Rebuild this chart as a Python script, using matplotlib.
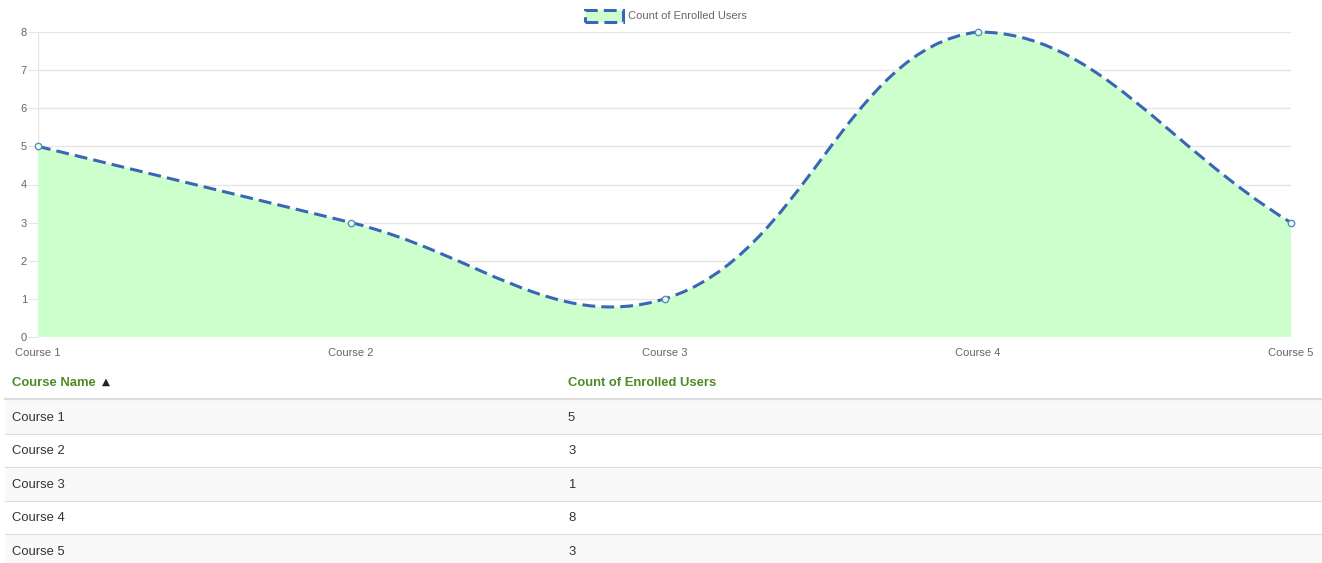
import numpy as np
import matplotlib
matplotlib.use("Agg")
import matplotlib.pyplot as plt
from matplotlib.path import Path
from matplotlib.patches import PathPatch, Rectangle

courses = ["Course 1", "Course 2", "Course 3", "Course 4", "Course 5"]
enrolled = [5, 3, 1, 8, 3]
y_ticks = [0, 1, 2, 3, 4, 5, 6, 7, 8]
series_label = "Count of Enrolled Users"
col_headers = ["Course Name", "Count of Enrolled Users"]

W, H = 1322, 563
LINE = "#3a66b8"
FILL = "#ccffcc"
GRID = "#e6e6e6"
TICK = "#666666"
HEAD = "#4f8a23"
DASH = (0, (4.2, 2.0))

plt.rcParams['font.family'] = ['Liberation Sans', 'DejaVu Sans']

fig = plt.figure(figsize=(W / 100, H / 100), dpi=100)

def fx(px):
    return px / W

def fy(py):
    return 1 - py / H

# plot area: x 38..1291, y 32..337 (pixels from top)
ax = fig.add_axes([fx(38), fy(337), fx(1291) - fx(38), fy(32) - fy(337)])
x = np.arange(len(courses))
ax.set_xlim(0, len(courses) - 1)
ax.set_ylim(0, 8)

for s in ax.spines.values():
    s.set_visible(False)
ax.axvline(0, color=GRID, lw=1, zorder=0)
ax.set_yticks(y_ticks)
ax.yaxis.grid(True, color=GRID, lw=1)
ax.set_axisbelow(True)
ax.tick_params(axis='y', length=7, color=GRID, labelcolor=TICK, labelsize=8, pad=1)
ax.set_xticks(x)
ax.set_xticklabels(courses)
ax.tick_params(axis='x', length=0, labelcolor=TICK, labelsize=8, pad=8)

# chart.js style spline (tension 0.4), control points computed in pixel space
tension = 0.4
pts = ax.transData.transform(np.column_stack([x, enrolled]))
n = len(pts)
cp_prev = np.zeros_like(pts)
cp_next = np.zeros_like(pts)
for i in range(n):
    prev = pts[max(i - 1, 0)]
    cur = pts[i]
    nxt = pts[min(i + 1, n - 1)]
    d01 = np.hypot(*(cur - prev))
    d12 = np.hypot(*(nxt - cur))
    tot = d01 + d12
    fa = tension * d01 / tot
    fb = tension * d12 / tot
    cp_prev[i] = cur - fa * (nxt - prev)
    cp_next[i] = cur + fb * (nxt - prev)
inv = ax.transData.inverted()
cp_prev = inv.transform(cp_prev)
cp_next = inv.transform(cp_next)
cp_prev[:, 1] = np.clip(cp_prev[:, 1], 0, 8)
cp_next[:, 1] = np.clip(cp_next[:, 1], 0, 8)

verts = [(x[0], enrolled[0])]
codes = [Path.MOVETO]
for i in range(n - 1):
    verts += [tuple(cp_next[i]), tuple(cp_prev[i + 1]), (x[i + 1], enrolled[i + 1])]
    codes += [Path.CURVE4] * 3

fill_path = Path(verts + [(x[-1], 0), (x[0], 0), (x[0], enrolled[0])],
                 codes + [Path.LINETO, Path.LINETO, Path.CLOSEPOLY])
ax.add_patch(PathPatch(fill_path, facecolor=FILL, edgecolor='none', zorder=1))
ax.add_patch(PathPatch(Path(verts, codes), facecolor='none', edgecolor=LINE,
                       lw=2.2, linestyle=DASH, zorder=3, clip_on=False))
ax.plot(x, enrolled, 'o', ms=4.6, mfc="#e8ffe8", mec="#5b8fc4", mew=1.0,
        zorder=4, clip_on=False)

# legend
fig.add_artist(Rectangle((fx(585), fy(22)), fx(38), fy(10) - fy(22),
                         transform=fig.transFigure, facecolor=FILL, edgecolor=LINE,
                         lw=2.2, linestyle=DASH))
fig.text(fx(628), fy(16), series_label, color=TICK, fontsize=8, va='center', ha='left')

# table below the chart
row_top = 400
row_h = 33.5
for i, (c, v) in enumerate(zip(courses, enrolled)):
    top = row_top + i * row_h
    bg = "#f9f9f9" if i % 2 == 0 else "#ffffff"
    fig.add_artist(Rectangle((fx(5), fy(top + row_h)), fx(W - 5), row_h / H,
                             transform=fig.transFigure, facecolor=bg, edgecolor='none'))
    if i > 0:
        fig.add_artist(plt.Line2D([fx(5), 1], [fy(top), fy(top)], color="#dddddd", lw=0.8))
    cy = top + row_h / 2 + 1
    fig.text(fx(12), fy(cy), c, color="#333333", fontsize=9.4, va='center')
    fig.text(fx(568), fy(cy), str(v), color="#333333", fontsize=9.4, va='center')

fig.add_artist(plt.Line2D([fx(5), 1], [fy(399), fy(399)], color="#dddddd", lw=1.6))
fig.text(fx(12), fy(382.5), col_headers[0], color=HEAD, fontsize=9.4, fontweight='bold', va='center')
fig.text(fx(102), fy(382), "\u25b2", color="#222222", fontsize=7.5, va='center',
         family=['DejaVu Sans'])
fig.text(fx(568), fy(382.5), col_headers[1], color=HEAD, fontsize=9.4, fontweight='bold', va='center')

fig.savefig("out.png", dpi=100)
